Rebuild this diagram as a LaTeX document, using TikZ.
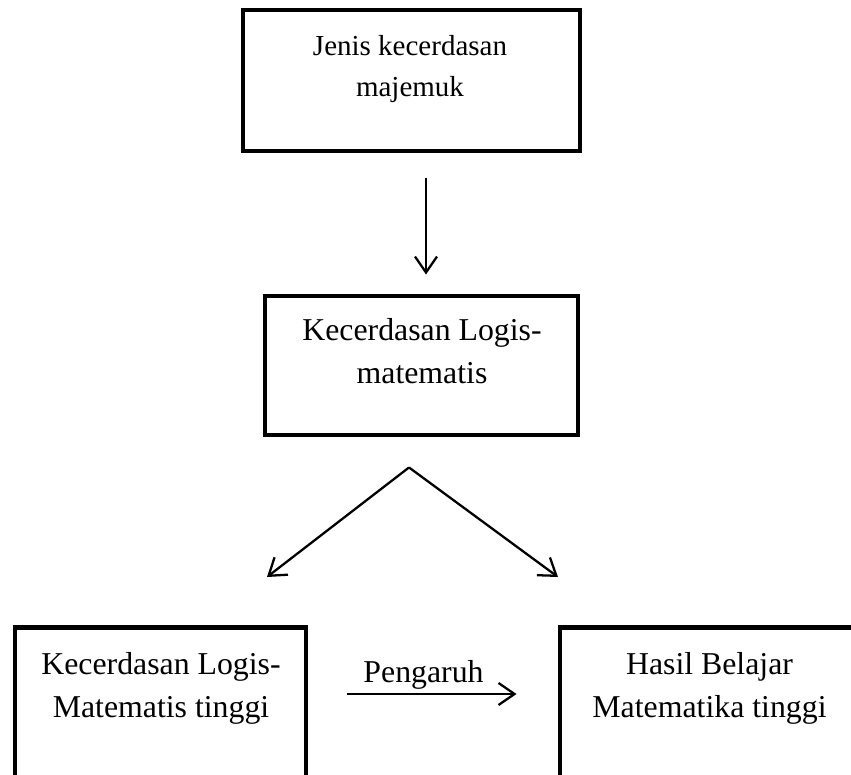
\documentclass[tikz,border=0pt]{standalone}
\usepackage{fontspec}
\setmainfont{Liberation Serif}
\usepackage{tikz}
\usetikzlibrary{arrows.meta}

\tikzset{
    box/.style={draw, line width=2.8pt, inner sep=0pt},
    txt/.style={align=center, inner sep=0pt, font=\fontsize{18.1}{24.4}\selectfont},
    smalltxt/.style={align=center, inner sep=0pt, font=\fontsize{16.5}{23.8}\selectfont},
    arr/.style={line width=1.3pt, -{Straight Barb[length=0.32cm,width=0.44cm]}}
}

\begin{document}
\begin{tikzpicture}
        \clip[use as bounding box] (0,0) rectangle (17.02,-15.5);

        % Boxes
        \node[box, minimum width=6.74cm, minimum height=2.82cm] (jenis) at (8.23,-1.61) {};
        \node[box, minimum width=6.26cm, minimum height=2.78cm] (logis) at (8.43,-7.31) {};
        \node[box, minimum width=5.82cm, minimum height=4cm, anchor=north] (tinggi) at (3.21,-12.5) {};
        \node[box, minimum width=5.98cm, minimum height=4cm, anchor=north] (hasil) at (14.19,-12.5) {};

        % Texts
        \node[smalltxt] (jenistxt) at (8.2,-1.38) {Jenis kecerdasan\\majemuk};
        \node[txt] (logistxt) at (8.44,-7.03) {Kecerdasan Logis-\\matematis};
        \node[txt] (tinggitxt) at (3.22,-13.77) {Kecerdasan Logis-\\Matematis tinggi};
        \node[txt] (hasiltxt) at (14.19,-13.77) {Hasil Belajar\\Matematika tinggi};

        \coordinate (split) at ([xshift=-0.25cm,yshift=-0.6cm]logis.south);

        \draw[arr] ([xshift=0.29cm,yshift=-0.5cm]jenis.south) -- ([xshift=0.09cm,yshift=0.38cm]logis.north);
        \draw[arr] (split) -- ([xshift=2.13cm,yshift=0.96cm]tinggi.north);
        \draw[arr] (split) -- ([xshift=-3.03cm,yshift=0.96cm]hasil.north);
        \draw[arr] ([xshift=0.78cm,yshift=-1.38cm]tinggi.north east) -- node[txt, pos=0.45, above, inner sep=2pt] (pengaruh) {Pengaruh} ([xshift=-0.82cm,yshift=-1.38cm]hasil.north west);

\end{tikzpicture}
\end{document}
